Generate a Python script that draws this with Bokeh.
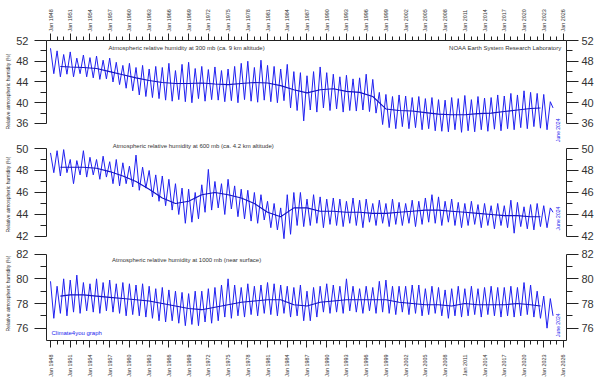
from math import pi
from bokeh.plotting import figure
from bokeh.models import Range1d, LinearAxis, FixedTicker, Label
from bokeh.layouts import column
from bokeh.embed import file_html
from bokeh.resources import INLINE

# ---------------- data ----------------
years = list(range(1948, 2025))
HI_MONTH = 0      # yearly maximum around January
LO_MONTH = 6      # yearly minimum around July
LAST_MONTH = 5    # series ends June 2024

x_tick_years = list(range(1948, 2027, 3))
x_tick_labels = [f"Jan {y}" for y in x_tick_years]
x_minor_years = list(range(1948, 2027))

# 300 mb
rh300_hi = [50.5, 50.0,
            49.3, 49.8, 48.6, 49.2, 48.7, 49.0, 48.2, 48.6, 47.8, 47.2,
            47.6, 46.8, 47.2, 46.5, 47.0, 46.8, 47.6, 46.2, 47.4, 47.8,
            46.6, 47.0, 46.4, 46.9, 46.2, 46.5, 47.0, 47.6, 48.0, 46.8,
            48.2, 47.2, 47.0, 46.5, 47.4, 46.0, 45.8, 45.2, 46.0, 46.9,
            45.8, 45.5, 45.0, 45.3, 44.6, 44.8, 45.5, 44.5, 42.0, 41.6,
            41.2, 41.5, 41.3, 41.0, 41.2, 40.8, 41.0, 40.6, 40.5, 41.0,
            40.8, 41.4, 40.6, 41.2, 40.9, 41.0, 41.5, 41.3, 41.8, 41.5,
            42.3, 42.0, 41.8, 41.6, 40.2]
rh300_lo = [45.6, 45.0,
            45.5, 45.0, 45.6, 45.0, 44.8, 44.5, 44.6, 44.0, 43.5, 42.8,
            42.3, 41.5, 41.2, 41.0, 40.8, 40.5, 40.3, 40.6, 40.2, 40.0,
            40.8, 40.3, 40.6, 40.5, 40.2, 40.4, 40.0, 40.6, 40.3, 40.1,
            40.5, 40.2, 40.0, 40.4, 39.0, 38.5, 36.5, 38.6, 38.2, 39.0,
            38.5, 38.8, 38.2, 38.5, 38.4, 38.6, 38.3, 38.0, 35.8, 35.2,
            35.0, 35.4, 35.0, 35.2, 34.8, 35.0, 34.6, 34.5, 34.4, 34.8,
            34.3, 34.6, 34.4, 34.8, 34.5, 34.9, 34.6, 35.0, 34.8, 35.2,
            35.0, 35.4, 35.1, 34.8, 39.0]

smooth_x = [1949.5, 1951, 1953, 1955, 1957, 1959, 1961, 1963, 1965, 1967,
            1969, 1971, 1973, 1975, 1977, 1979, 1981, 1983, 1985, 1987,
            1989, 1991, 1993, 1995, 1997, 1999, 2001, 2003, 2005, 2007,
            2009, 2011, 2013, 2015, 2017, 2019, 2021, 2022.5]
rh300_smooth = [47.0, 46.9, 46.8, 46.6, 46.0, 45.4, 44.8, 44.3, 43.9, 43.7,
                43.7, 43.8, 43.6, 43.5, 43.7, 43.9, 43.8, 43.3, 42.5, 41.9,
                42.5, 42.7, 42.2, 42.0, 41.2, 38.8, 38.5, 38.4, 38.1, 37.8,
                37.7, 37.7, 37.9, 38.0, 38.3, 38.6, 38.9, 39.0]

# 600 mb
rh600_hi = [49.6, 49.8,
            49.9, 49.0, 48.9, 49.8, 49.2, 49.0, 49.3, 48.8, 49.0, 48.7,
            48.4, 49.4, 48.3, 48.0, 47.6, 47.5, 47.2, 46.8, 46.4, 46.3,
            46.0, 46.7, 48.1, 47.0, 46.8, 47.2, 46.6, 46.3, 46.2, 46.0,
            45.8, 45.2, 45.0, 44.6, 45.8, 46.0, 46.0, 45.4, 45.8, 45.6,
            45.4, 45.5, 45.4, 45.2, 45.5, 45.3, 45.4, 45.0, 45.3, 45.0,
            45.4, 45.1, 45.0, 45.3, 45.2, 45.5, 45.8, 45.6, 45.2, 45.4,
            45.1, 45.0, 45.2, 44.9, 45.0, 44.8, 45.0, 44.8, 45.3, 45.1,
            44.7, 44.9, 45.0, 44.8, 44.6]
rh600_lo = [47.8, 47.5,
            47.8, 46.8, 47.6, 47.4, 47.6, 47.2, 47.4, 46.8, 46.6, 46.8,
            46.5, 46.2, 46.4, 45.6, 45.2, 44.8, 44.4, 44.0, 43.2, 43.3,
            43.6, 44.2, 44.4, 44.6, 44.0, 44.5, 43.8, 43.6, 43.4, 43.2,
            43.5, 42.8, 42.6, 41.8, 42.2, 43.0, 42.9, 43.0, 43.2, 42.8,
            43.1, 43.0, 42.9, 43.2, 43.0, 42.8, 43.3, 43.0, 43.2, 42.9,
            43.1, 43.0, 43.2, 42.9, 43.1, 43.3, 43.2, 43.0, 43.3, 43.0,
            42.8, 43.0, 43.1, 42.8, 43.0, 42.7, 43.0, 42.8, 42.3, 42.9,
            42.7, 42.6, 42.9, 42.8, 44.2]
rh600_smooth = [48.3, 48.3, 48.3, 48.2, 47.9, 47.5, 47.0, 46.3, 45.5, 45.0,
                45.2, 45.8, 46.0, 45.8, 45.5, 45.0, 44.2, 43.8, 44.6, 44.6,
                44.3, 44.3, 44.2, 44.2, 44.1, 44.1, 44.2, 44.3, 44.4, 44.4,
                44.3, 44.2, 44.1, 44.0, 43.9, 43.9, 43.8, 43.8]

# 1000 mb
rh1000_hi = [79.8, 79.4,
             80.0, 79.9, 80.3, 79.7, 79.6, 80.0, 79.7, 79.9, 79.6, 79.7,
             79.6, 79.5, 79.6, 79.4, 79.2, 79.3, 79.1, 79.0, 78.9, 78.8,
             79.0, 79.0, 79.2, 79.3, 79.5, 80.0, 79.5, 79.3, 79.6, 79.4,
             79.5, 79.7, 79.6, 79.5, 79.4, 79.3, 79.5, 79.0, 79.3, 79.4,
             79.6, 79.5, 79.4, 80.0, 79.4, 79.2, 79.4, 79.3, 79.8, 79.9,
             79.4, 79.4, 79.4, 79.5, 79.5, 79.2, 79.4, 79.3, 79.1, 79.2,
             79.4, 79.2, 79.4, 79.2, 79.3, 79.4, 79.3, 79.3, 79.4, 79.3,
             79.7, 79.5, 79.0, 78.6, 78.4]
rh1000_lo = [76.8, 77.2,
             77.0, 77.3, 77.2, 77.4, 77.3, 77.2, 77.4, 77.3, 77.2, 77.0,
             77.1, 77.0, 76.9, 76.8, 76.6, 76.5, 76.6, 76.4, 76.2, 76.3,
             76.2, 76.5, 76.4, 76.6, 76.9, 76.8, 77.0, 76.9, 77.1, 77.0,
             77.2, 77.1, 77.0, 77.2, 76.9, 77.0, 76.6, 76.6, 76.9, 77.3,
             77.2, 77.3, 77.2, 77.4, 77.3, 77.2, 77.4, 77.2, 77.3, 77.2,
             77.1, 77.3, 77.1, 77.2, 77.0, 77.1, 77.2, 77.0, 76.8, 77.0,
             76.9, 77.0, 77.1, 76.9, 77.1, 77.0, 76.9, 77.0, 76.9, 77.0,
             77.1, 76.9, 76.8, 76.0, 77.0]
rh1000_smooth = [78.6, 78.7, 78.7, 78.6, 78.5, 78.4, 78.3, 78.2, 78.0, 77.8,
                 77.6, 77.5, 77.7, 77.9, 78.1, 78.2, 78.3, 78.3, 77.9, 77.8,
                 78.1, 78.2, 78.3, 78.3, 78.3, 78.3, 78.1, 78.0, 77.9, 77.9,
                 77.8, 78.0, 77.9, 77.9, 77.9, 78.0, 77.9, 77.8]

# ---------------- styling ----------------
FONT = "Liberation Sans"
TXT = "#333333"
AXC = "#222222"
LINE_C = "#2020f0"
SMOOTH_C = "#1414c4"
LABEL_C = "#2222ee"


def monthly_xy(hi, lo):
    xs, ys = [], []
    for yr, h, l in zip(years, hi, lo):
        lm = LO_MONTH if yr < 2024 else LAST_MONTH
        xs += [yr + HI_MONTH / 12.0, yr + lm / 12.0]
        ys += [h, l]
    return xs, ys


xr = Range1d(1947.39, 2026.46)


def make_panel(height, yr_, bounds, majors, minors, btop, bbot, xloc):
    p = figure(width=601, height=height, x_range=xr, y_range=Range1d(*yr_),
               output_backend="svg", toolbar_location=None,
               x_axis_location=xloc,
               min_border_left=50, min_border_right=31,
               min_border_top=btop, min_border_bottom=bbot)
    p.outline_line_color = None
    p.xgrid.visible = False
    p.ygrid.visible = False
    p.background_fill_color = "white"
    p.border_fill_color = "white"
    p.add_layout(LinearAxis(), "right")
    for ax in p.yaxis:
        ax.ticker = FixedTicker(ticks=majors, minor_ticks=minors)
        ax.bounds = bounds
        ax.major_tick_out = 12
        ax.major_tick_in = 0
        ax.minor_tick_out = 6
        ax.minor_tick_in = 0
        ax.axis_line_color = AXC
        ax.major_tick_line_color = AXC
        ax.minor_tick_line_color = AXC
        ax.major_label_text_font = FONT
        ax.major_label_text_font_size = "11px"
        ax.major_label_text_color = TXT
    p.left[0].major_label_standoff = 6
    p.left[0].axis_label = "Relative atmospheric humidity (%)"
    p.left[0].axis_label_text_font = FONT
    p.left[0].axis_label_text_font_size = "5px"
    p.left[0].axis_label_text_font_style = "normal"
    p.left[0].axis_label_text_color = TXT
    p.left[0].axis_label_standoff = 2
    p.right[0].major_label_standoff = 3
    for ax in p.xaxis:
        ax.ticker = FixedTicker(ticks=x_tick_years, minor_ticks=x_minor_years)
        ax.major_label_overrides = dict(zip(x_tick_years, x_tick_labels))
        ax.major_label_orientation = pi / 2
        ax.major_label_text_font = FONT
        ax.major_label_text_font_size = "5.4px"
        ax.major_label_text_color = TXT
        ax.major_tick_out = 7
        ax.major_tick_in = 0
        ax.minor_tick_out = 4
        ax.minor_tick_in = 0
        ax.axis_line_color = AXC
        ax.major_tick_line_color = AXC
        ax.minor_tick_line_color = AXC
        ax.major_label_standoff = 2 if xloc == "above" else 7
    return p


def add_series(p, hi, lo, sm):
    xs, ys = monthly_xy(hi, lo)
    p.line(xs, ys, line_color=LINE_C, line_width=1.0)
    p.line(smooth_x, sm, line_color=SMOOTH_C, line_width=1.1)


def txt(p, x, y, text, align="center", color=TXT, size="6px", angle=0.0):
    p.add_layout(Label(x=x, y=y, text=text, text_font=FONT, text_font_size=size,
                       text_color=color, text_align=align, text_baseline="middle",
                       angle=angle))


# panel 1 : 300 mb  (frame y 44..146 px)
p1 = make_panel(146, (32.337, 52.0), (36, 52), [36, 40, 44, 48, 52], [38, 42, 46, 50],
                44, 0, "above")
add_series(p1, rh300_hi, rh300_lo, rh300_smooth)
txt(p1, 1968.7, 50.46, "Atmospheric relative humidity at 300 mb (ca. 9 km altitude)")
txt(p1, 2025.7, 50.46, "NOAA Earth System Research Laboratory", align="right")
txt(p1, 2025.24, 34.7, "June 2024", color=LABEL_C, size="5px", angle=pi / 2)

# panel 2 : 600 mb  (frame y 146..250 px)
p2 = make_panel(104, (41.09, 50.545), (42, 50), [42, 44, 46, 48, 50], [43, 45, 47, 49],
                0, 0, None)
add_series(p2, rh600_hi, rh600_lo, rh600_smooth)
txt(p2, 1969.7, 50.27, "Atmospheric relative humidity at 600 mb (ca. 4.2 km altitude)")
txt(p2, 2025.24, 43.64, "June 2024", color=LABEL_C, size="5px", angle=pi / 2)

# panel 3 : 1000 mb  (frame y 250..348 px)
p3 = make_panel(133, (75.0, 82.622), (75, 82), [76, 78, 80, 82], [77, 79, 81],
                0, 35, "below")
add_series(p3, rh1000_hi, rh1000_lo, rh1000_smooth)
txt(p3, 1968.7, 81.53, "Atmospheric relative humidity at 1000 mb (near surface)")
txt(p3, 1948.15, 75.62, "Climate4you graph", align="left", color=LABEL_C, size="6px")
txt(p3, 2025.24, 76.24, "June 2024", color=LABEL_C, size="5px", angle=pi / 2)

layout = column(p1, p2, p3, spacing=0, margin=(-4, -4, -4, -4))

open("out.html", "w").write(file_html(layout, INLINE))
